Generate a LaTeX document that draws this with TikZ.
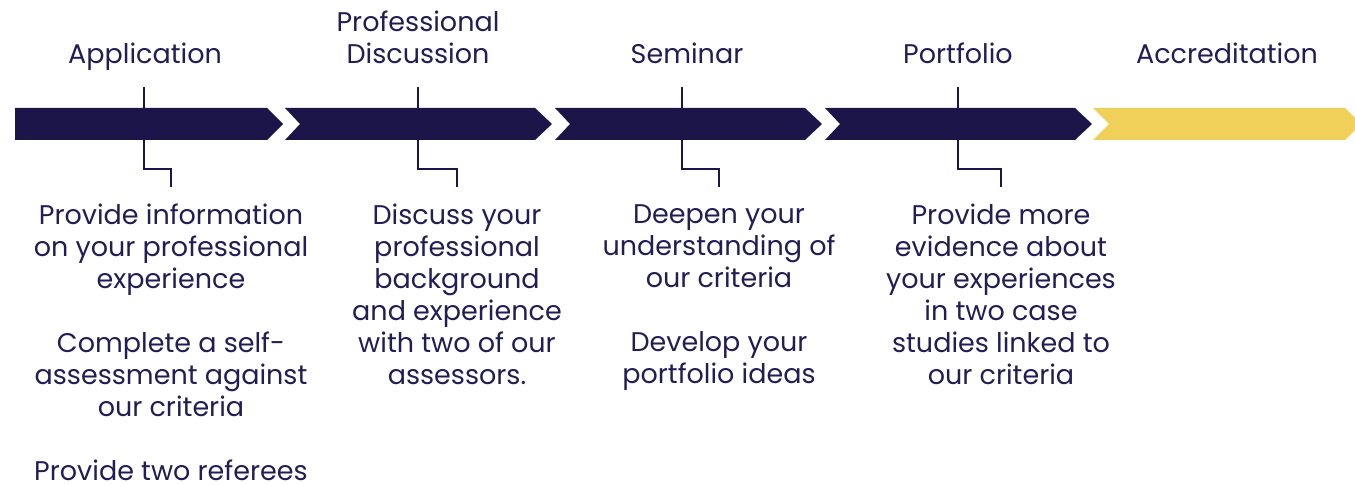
\documentclass[tikz,border=0pt]{standalone}
\usepackage{xcolor}
\usepackage{fontspec}
\setmainfont{Poppins}
\definecolor{ACNavy}{HTML}{1B1549}
\definecolor{ACGold}{HTML}{F0D058}
\definecolor{ACText}{HTML}{221D55}

\begin{document}
\begin{tikzpicture}[x=1pt,y=-1pt,
  stage/.style={anchor=base,align=center,inner sep=0pt,text=ACText,font=\fontsize{27}{32}\selectfont},
  detail/.style={anchor=north,align=center,inner sep=0pt,text depth=0pt,text=ACText,font=\fontsize{27}{32}\selectfont},
  link/.style={draw=ACNavy,line width=2pt}]
\path[use as bounding box] (0,0) rectangle (1355,486);
% chevrons
\fill[ACNavy] (15,108) -- (267,108) -- (283,124) -- (267,140) -- (15,140) -- cycle;
\fill[ACNavy] (285,108) -- (535,108) -- (552,124) -- (535,140) -- (285,140) -- (300,124) -- cycle;
\fill[ACNavy] (555,108) -- (805,108) -- (822,124) -- (805,140) -- (555,140) -- (570,124) -- cycle;
\fill[ACNavy] (825,108) -- (1075,108) -- (1092,124) -- (1075,140) -- (825,140) -- (840,124) -- cycle;
\fill[ACGold] (1093,108) -- (1345,108) -- (1361,124) -- (1345,140) -- (1093,140) -- (1109,124) -- cycle;
% stage names
\node[stage] (app) at (145,64) {Application};
\node[stage] (disc) at (418,64) {Professional\\Discussion};
\node[stage] (sem) at (687,64) {Seminar};
\node[stage] (port) at (958,64) {Portfolio};
\node[stage] (accr) at (1227,64) {Accreditation};
% connectors
\coordinate (appTop) at (144,87);  \coordinate (appEnd) at (171,187);
\coordinate (discTop) at (418,87); \coordinate (discEnd) at (457,187);
\coordinate (semTop) at (682,87);  \coordinate (semEnd) at (719,187);
\coordinate (portTop) at (958,87); \coordinate (portEnd) at (1001,187);
\draw[link] (appTop) -- ++(0,82) -| (appEnd);
\draw[link] (discTop) -- ++(0,82) -| (discEnd);
\draw[link] (semTop) -- ++(0,82) -| (semEnd);
\draw[link] (portTop) -- ++(0,82) -| (portEnd);
% details
\node[detail] (appText) at (171,204) {Provide information\\on your professional\\experience\\[32pt]Complete a self-\\assessment against\\our criteria\\[32pt]Provide two referees};
\node[detail] (discText) at (457,204) {Discuss your\\professional\\background\\and experience\\with two of our\\assessors.};
\node[detail] (semText) at (719,204) {Deepen your\\understanding of\\our criteria\\[32pt]Develop your\\portfolio ideas};
\node[detail] (portText) at (1001,204) {Provide more\\evidence about\\your experiences\\in two case\\studies linked to\\our criteria};
\end{tikzpicture}
\end{document}
